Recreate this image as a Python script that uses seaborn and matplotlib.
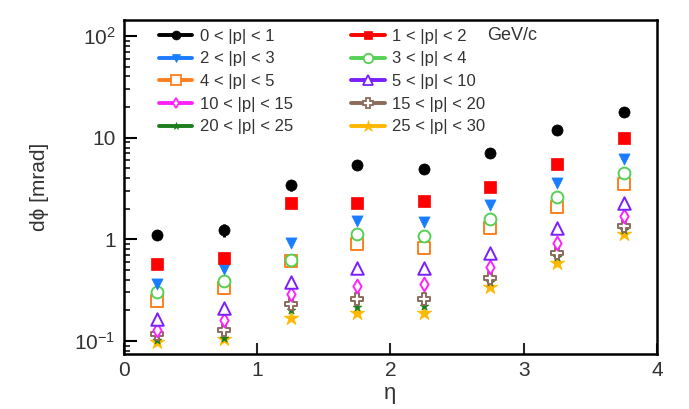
import matplotlib
matplotlib.use("Agg")
import matplotlib.pyplot as plt
from matplotlib.lines import Line2D
from matplotlib.ticker import FixedLocator, LogLocator, NullFormatter
import seaborn as sns
import pandas as pd
import numpy as np

eta = [0.25, 0.75, 1.25, 1.75, 2.25, 2.75, 3.25, 3.75]

labels = ["0 < |p| < 1", "1 < |p| < 2", "2 < |p| < 3", "3 < |p| < 4",
          "4 < |p| < 5", "5 < |p| < 10", "10 < |p| < 15", "15 < |p| < 20",
          "20 < |p| < 25", "25 < |p| < 30"]

p0_1 = [1.10, 1.23, 3.40, 5.40, 4.90, 7.00, 11.8, 17.8]
p1_2 = [0.57, 0.65, 2.30, 2.30, 2.40, 3.25, 5.50, 9.90]
p2_3 = [0.36, 0.51, 0.93, 1.50, 1.47, 2.20, 3.60, 6.10]
p3_4 = [0.30, 0.39, 0.62, 1.12, 1.07, 1.60, 2.60, 4.50]
p4_5 = [0.245, 0.33, 0.61, 0.89, 0.82, 1.28, 2.07, 3.50]
p5_10 = [0.166, 0.21, 0.38, 0.52, 0.52, 0.74, 1.28, 2.27]
p10_15 = [0.127, 0.16, 0.29, 0.35, 0.36, 0.53, 0.91, 1.68]
p15_20 = [0.116, 0.127, 0.23, 0.26, 0.26, 0.42, 0.73, 1.34]
p20_25 = [0.101, 0.108, 0.20, 0.215, 0.22, 0.38, 0.67, 1.23]
p25_30 = [0.097, 0.105, 0.167, 0.19, 0.19, 0.34, 0.59, 1.12]

p0_1_err = [0.06, 0.18, 0.40, 0.25, 0.20, 0.30, 0.40, 0.50]

series = [p0_1, p1_2, p2_3, p3_4, p4_5, p5_10, p10_15, p15_20, p20_25, p25_30]

colors = ["#000000", "#ff0000", "#1a7cff", "#55d055", "#ff7f1e",
          "#7a1fff", "#ff22ff", "#8c6b5c", "#1b7d1b", "#ffb800"]
markers = ["o", "s", "v", "o", "s", "^", "d", "P", "*", "*"]
filled = [True, True, True, False, False, False, False, False, True, True]
msizes = [8, 8, 8, 8.5, 8.5, 9, 7, 8.5, 6.5, 11]

rows = []
for lab, vals in zip(labels, series):
    for e, v in zip(eta, vals):
        rows.append({"eta": e, "dphi": v, "range": lab})
df = pd.DataFrame(rows)

sns.set_style("ticks")
plt.rcParams["font.family"] = ["Liberation Sans", "DejaVu Sans"]
plt.rcParams["mathtext.fontset"] = "custom"
plt.rcParams["mathtext.rm"] = "Liberation Sans"
plt.rcParams["mathtext.it"] = "Liberation Sans"

fig = plt.figure(figsize=(6.89, 4.09), dpi=100)
ax = fig.add_axes([0.180, 0.1345, 0.7735, 0.8175])

# error bars on the lowest-momentum series
ax.errorbar(eta, p0_1, yerr=p0_1_err, fmt="none", ecolor="black", elinewidth=2.2, capsize=0, zorder=2)

handles = []
for i, lab in enumerate(labels):
    sub = df[df["range"] == lab]
    fc = colors[i] if filled[i] else "white"
    s = msizes[i] ** 2
    lw = 1.4
    sns.scatterplot(data=sub, x="eta", y="dphi", ax=ax, marker=markers[i], s=s,
                    color=colors[i], facecolor=colors[i] if filled[i] else "white",
                    edgecolor=colors[i], linewidth=0.5 if filled[i] else lw,
                    legend=False, zorder=3 + (10 - i) * 0.01)
    handles.append(Line2D([0], [0], color=colors[i], lw=2.8, marker=markers[i],
                          markersize=msizes[i] * 0.8, markerfacecolor=fc,
                          markeredgecolor=colors[i], markeredgewidth=1.3 if not filled[i] else 0.5))

# legend fills row-wise in the reference: reorder for matplotlib's column-wise fill
order = [0, 2, 4, 6, 8, 1, 3, 5, 7, 9]
leg_handles = [handles[k] for k in order]
leg_labels = [labels[k] for k in order]

ax.set_yscale("log")
ax.set_xlim(0, 4)
ax.set_ylim(0.0744, 145)

ax.yaxis.set_major_locator(FixedLocator([0.1, 1, 10, 100]))
ax.set_yticklabels([r"$10^{-1}$", "1", "10", r"$10^{2}$"])
ax.yaxis.set_minor_locator(LogLocator(base=10, subs=np.arange(2, 10)))
ax.yaxis.set_minor_formatter(NullFormatter())
ax.set_xticks([0, 1, 2, 3, 4])
ax.set_xticklabels(["0", "1", "2", "3", "4"])

ax.tick_params(axis="y", which="major", direction="in", length=9, width=1.5,
               labelsize=15, colors="black", labelcolor="#333333", pad=6)
ax.tick_params(axis="y", which="minor", direction="in", length=4.5, width=1.3)
ax.tick_params(axis="x", which="major", direction="in", length=8, width=1.5,
               labelsize=15, labelcolor="#333333", pad=5)
ax.tick_params(axis="x", which="minor", bottom=False)

for sp in ax.spines.values():
    sp.set_linewidth(1.8)
    sp.set_color("black")

ax.set_xlabel("η", fontsize=16, color="#333333", labelpad=2)
ax.set_ylabel("dϕ [mrad]", fontsize=15, color="#333333", labelpad=18)

leg = fig.legend(handles=leg_handles, labels=leg_labels, ncol=2, loc="upper left",
                 bbox_to_anchor=(0.221, 0.946), frameon=False, fontsize=12,
                 handlelength=2.0, handletextpad=0.45, columnspacing=3.5,
                 labelspacing=0.46, borderaxespad=0)
for t in leg.get_texts():
    t.set_color("#333333")

fig.text(0.707, 0.912, "GeV/c", fontsize=13, color="#333333", va="center")

fig.savefig("out.png", dpi=100)
